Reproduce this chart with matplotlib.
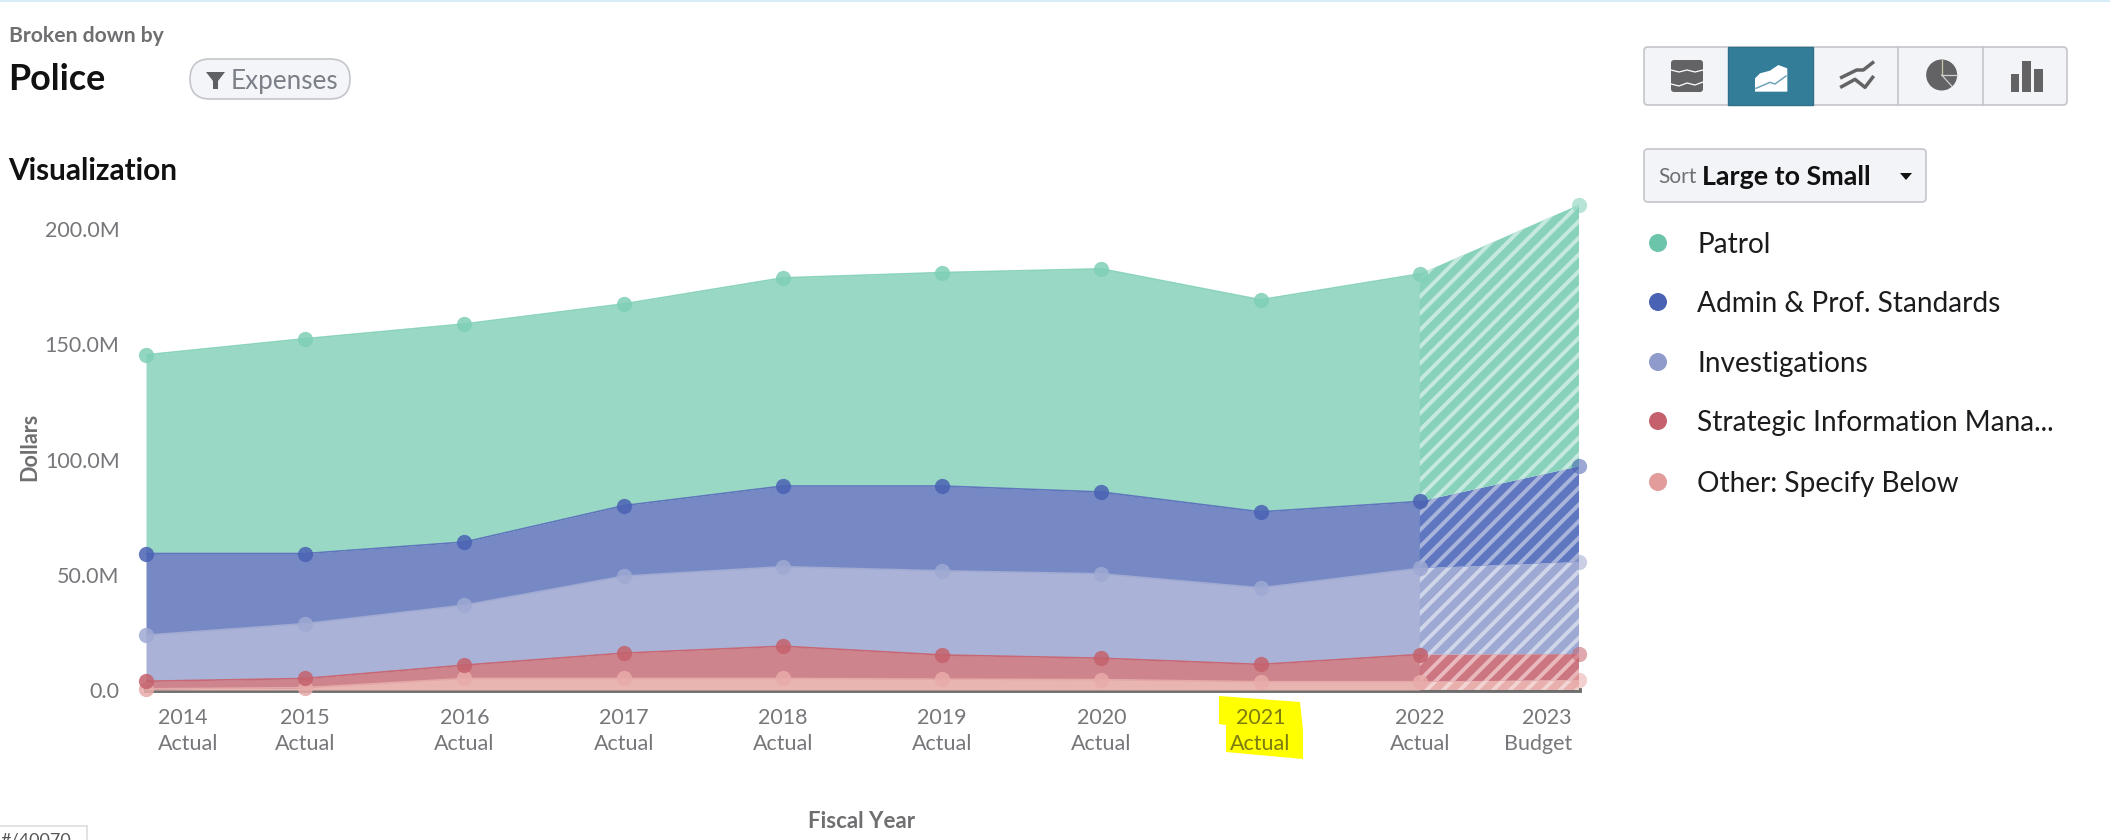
import numpy as np
import matplotlib
matplotlib.use("Agg")
import matplotlib.pyplot as plt
from matplotlib.patches import FancyBboxPatch, Polygon, Rectangle, Circle, Wedge

plt.rcParams['font.family'] = ['Lato', 'DejaVu Sans']
plt.rcParams['hatch.linewidth'] = 2.8

years = [2014, 2015, 2016, 2017, 2018, 2019, 2020, 2021, 2022, 2023]
kinds = ['Actual'] * 9 + ['Budget']

# stacked from the bottom up, millions of dollars
other = [0.5, 1.0, 5.0, 5.0, 5.0, 4.7, 4.5, 3.6, 3.6, 4.3]
strategic = [3.3, 4.0, 5.8, 11.0, 14.0, 10.5, 9.3, 7.5, 11.8, 11.3]
investigations = [20.0, 23.8, 26.0, 33.4, 34.5, 36.5, 36.6, 33.2, 37.4, 39.9]
admin = [35.4, 30.4, 27.4, 30.6, 35.0, 36.8, 35.5, 33.0, 29.0, 41.5]
patrol = [86.2, 93.2, 94.6, 87.5, 90.3, 92.6, 96.8, 92.0, 98.7, 113.5]

series = [other, strategic, investigations, admin, patrol]
solid = ['#E8B5B1', '#CE848D', '#AAB3D7', '#7689C5', '#9AD8C6']
hatched = ['#E8AFAC', '#CC7681', '#9DA8D3', '#5E77C0', '#88D2BC']
stripe = ['#F2D5D3', '#E8B9BD', '#D0D6E9', '#A9B4DA', '#C6E9DF']
edge = ['#E4A9A6', '#C76874', '#A0AAD2', '#5F76BC', '#8AD3BD']
dots = ['#E8ABA9', '#C4616C', '#9FA9D2', '#4A62B4', '#7FCFB6']

legend_names = ['Patrol', 'Admin & Prof. Standards', 'Investigations',
                'Strategic Information Mana...', 'Other: Specify Below']
legend_colors = ['#6CC5AA', '#4A62B4', '#8E9BCB', '#C4616C', '#E29C9C']

GREY = '#77777B'
W, H = 2110, 840

fig = plt.figure(figsize=(W / 100, H / 100), dpi=100, facecolor='white')

# page furniture, in pixel coordinates
ui = fig.add_axes([0, 0, 1, 1], zorder=0)
ui.set_xlim(0, W)
ui.set_ylim(H, 0)
ui.axis('off')

ui.add_patch(Rectangle((0, 0), W, 2, color='#D6EDF8', lw=0))
ui.text(9, 36, 'Broken down by', fontsize=15.2, fontweight='bold', color='#6F6F72', va='center')
ui.text(8, 80, 'Police', fontsize=25.8, fontweight='bold', color='#111111', va='center')
ui.text(8, 171, 'Visualization', fontsize=21.4, fontweight='bold', color='#111111', va='center')

ui.add_patch(FancyBboxPatch((190, 59), 160, 40, boxstyle='round,pad=0,rounding_size=20',
                            fc='#F4F5F8', ec='#C4C6CB', lw=1.2))
ui.add_patch(Polygon([(206, 72), (225, 72), (218, 81), (218, 89), (213, 89), (213, 81)], color='#5F6063', lw=0))
ui.text(231, 81, 'Expenses', fontsize=18.8, color='#7B7F88', va='center')


def z(x, y):
    return 1600 + x / 3, 20 + y / 3


ICON = '#636366'
ui.add_patch(FancyBboxPatch((1644, 47), 423, 58, boxstyle='round,pad=0,rounding_size=4',
                            fc='#F3F4F7', ec='#C4C6CB', lw=1.2))
ui.add_patch(Rectangle((1728, 47), 85, 58, fc='#337D99', ec='#2F6F88', lw=1))
for xd in [1898, 1983]:
    ui.plot([xd, xd], [47, 105], color='#C4C6CB', lw=1.2)

# stream icon
ui.add_patch(FancyBboxPatch((1671, 60), 32, 32, boxstyle='round,pad=0,rounding_size=3', fc=ICON, ec='none'))
ui.plot([1671, 1679, 1687, 1695, 1703], [70, 72, 70, 72, 70], color='white', lw=0.9)
ui.plot([1671, 1679, 1687, 1695, 1703], [84, 86, 83, 85, 82], color='white', lw=0.9)
# area icon
ui.add_patch(Polygon([z(465, 215), z(465, 175), z(480, 160), z(510, 152), z(535, 135), z(562, 145), z(562, 215)],
                     color='white', lw=0))
ui.plot(*zip(z(468, 205), z(510, 187), z(525, 192), z(558, 168)), color='#6FA4B9', lw=1.1)
# line icon
ui.plot(*zip(z(725, 172), z(770, 150), z(790, 150), z(818, 128)), color=ICON, lw=2.5)
ui.plot(*zip(z(725, 200), z(765, 178), z(795, 202), z(818, 172)), color=ICON, lw=2.5)
# pie icon
pc = z(1025, 165)
ui.add_patch(Wedge(pc, 15.5, 0, 360, fc=ICON, ec='none'))
ui.plot([pc[0], pc[0]], [pc[1], pc[1] - 15.5], color='#C9C9A8', lw=0.9)
ui.plot([pc[0], pc[0] + 15.5], [pc[1], pc[1]], color='#D0D0D0', lw=0.9)
ui.plot([pc[0], pc[0] + 10], [pc[1], pc[1] + 11], color='#D0D0D0', lw=0.9)
# bar icon
for x0, x1, y0 in [(1232, 1256, 162), (1267, 1292, 122), (1303, 1328, 147)]:
    ui.add_patch(Rectangle(z(x0, y0), (x1 - x0) / 3, (215 - y0) / 3, color=ICON, lw=0))

# sort box
ui.add_patch(FancyBboxPatch((1644, 149), 282, 53, boxstyle='round,pad=0,rounding_size=4',
                            fc='#F3F4F7', ec='#C4C6CB', lw=1.2))
ui.text(1658, 177, 'Sort', fontsize=15, color='#6F6F72', va='center')
ui.text(1702, 177, 'Large to Small', fontsize=19.4, fontweight='bold', color='#111111', va='center')
ui.add_patch(Polygon([(1900, 173), (1912, 173), (1906, 180)], color='#111111', lw=0))

# legend
legend_y = [243, 302, 362, 421, 482]
for name, col, ly in zip(legend_names, legend_colors, legend_y):
    ui.add_patch(Circle((1658, ly), 9, color=col, lw=0))
    ui.text(1697, ly + 2, name, fontsize=20.2, color='#1C1C1F', va='center')

# yellow marker pen over the 2021 label
ui.add_patch(Polygon([(1219, 696), (1300, 702), (1303, 730), (1303, 759), (1226, 752),
                      (1226, 725), (1219, 724)], color='#FFFF00', lw=0))

# axis titles
ui.text(30, 447, 'Dollars', fontsize=15.5, fontweight='bold', color='#6F6F72', rotation=90, ha='center', va='center')
ui.text(862, 822, 'Fiscal Year', fontsize=16, fontweight='bold', color='#6F6F72', ha='center', va='center')

# cropped box in the bottom left corner
ui.add_patch(Rectangle((-3, 826), 90, 20, fc='white', ec='#DDDDDD', lw=1.2))
ui.text(1, 841, '#/40070', fontsize=13, color='#555555', va='center', clip_on=True)

# the chart, x 146..1579, zero at y=690, 2.305 px per million
top_px = 190
ax = fig.add_axes([146 / W, (H - 690) / H, (1579 - 146) / W, (690 - top_px) / H], zorder=1)
ax.patch.set_alpha(0)
ax.set_xlim(years[0], years[-1])
ax.set_ylim(0, (690 - top_px) / 2.305)

x = np.array(years)
base = np.zeros(len(x))
for i, vals in enumerate(series):
    top = base + np.array(vals)
    ax.fill_between(x[:-1], base[:-1], top[:-1], color=solid[i], lw=0, zorder=2)
    ax.fill(np.concatenate([x[-2:], x[-2:][::-1]]),
            np.concatenate([top[-2:], base[-2:][::-1]]),
            facecolor=hatched[i], edgecolor=stripe[i], hatch='//', lw=0, zorder=2)
    ax.plot(x[:-1], top[:-1], color=edge[i], lw=1.2, zorder=3)
    base = top

base = np.zeros(len(x))
for i, vals in enumerate(series):
    base = base + np.array(vals)
    ax.plot(x[:-1], base[:-1], 'o', ms=11, mew=0, color=dots[i], alpha=0.85, zorder=4, clip_on=False)
    ax.plot(x[-1:], base[-1:], 'o', ms=11, mew=0, color=dots[i], alpha=0.55, zorder=4, clip_on=False)

for s in ['top', 'left', 'right']:
    ax.spines[s].set_visible(False)
ax.spines['bottom'].set_color('#6E6E6E')
ax.spines['bottom'].set_linewidth(3.5)
ax.spines['bottom'].set_zorder(1.5)

ax.set_yticks([0, 50, 100, 150, 200], ['0.0', '50.0M', '100.0M', '150.0M', '200.0M'])
ax.tick_params(axis='y', length=0, pad=19, labelsize=15.5, labelcolor=GREY)
ax.set_xticks([])

for i, (yr, kind) in enumerate(zip(years, kinds)):
    ha, dx = 'center', 0
    if i == 0:
        ha, dx = 'left', 12
    if i == len(years) - 1:
        ha, dx = 'right', -7
    col = '#7C7C10' if yr == 2021 else GREY
    ax.annotate(str(yr), (yr, 0), xytext=(dx, -28), xycoords='data', textcoords='offset pixels',
                ha=ha, va='center', fontsize=15.5, color=col, annotation_clip=False)
    ax.annotate(kind, (yr, 0), xytext=(dx, -54), xycoords='data', textcoords='offset pixels',
                ha=ha, va='center', fontsize=15.5, color=col, annotation_clip=False)

fig.savefig('out.png', dpi=100)
